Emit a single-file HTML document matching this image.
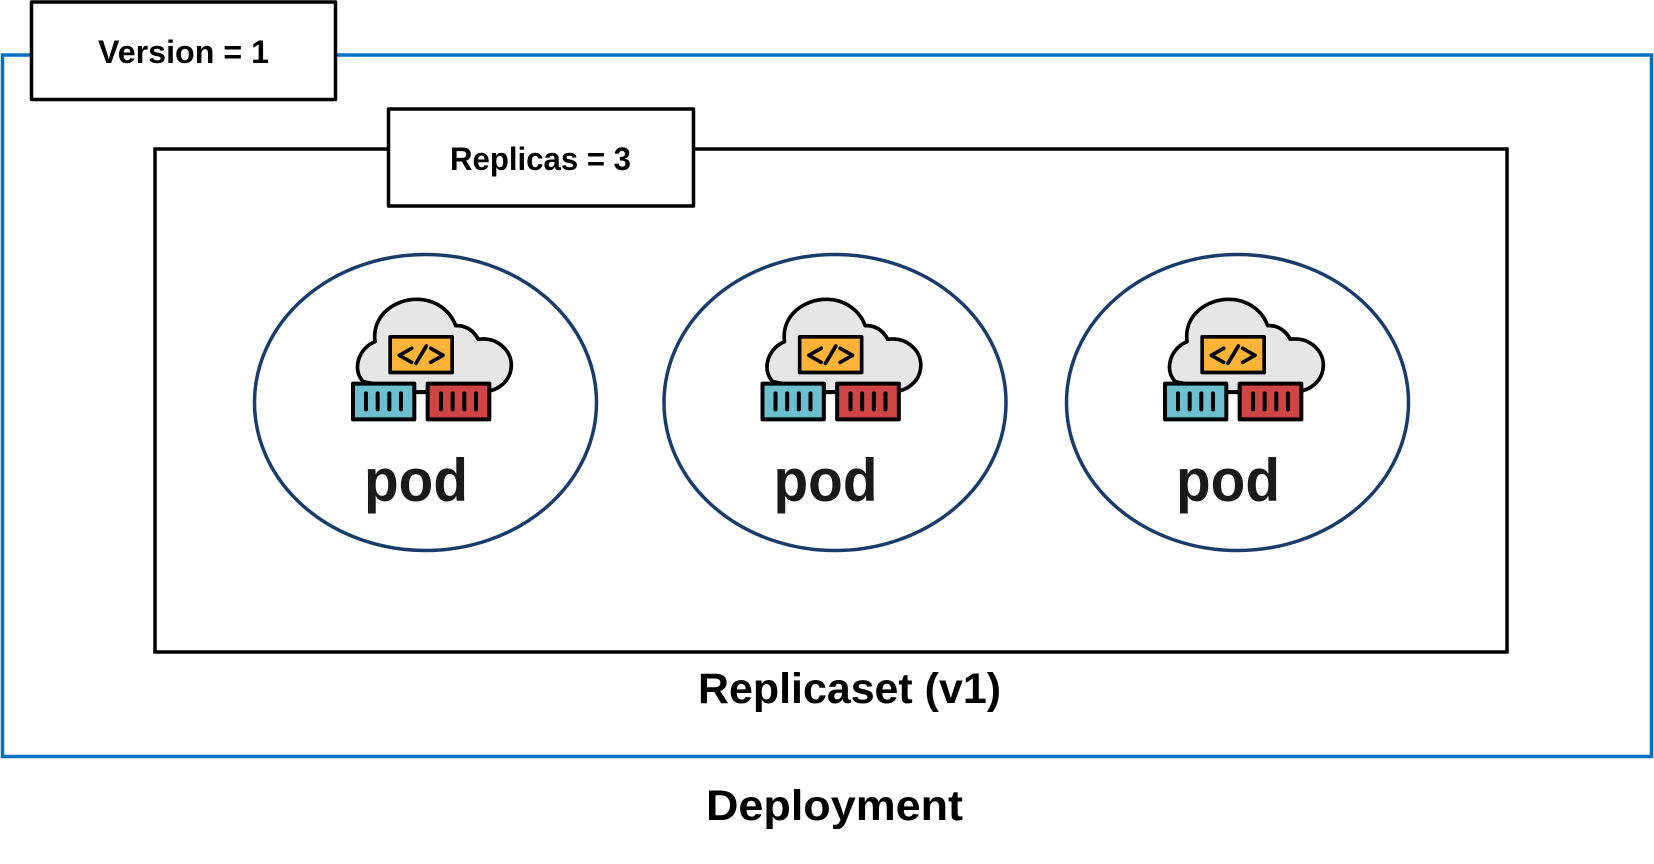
<!DOCTYPE html>
<html>
<head>
<meta charset="utf-8">
<style>
html,body{margin:0;padding:0;background:#fff;width:1654px;height:864px;overflow:hidden}
svg{display:block}
text{font-family:"Liberation Sans",sans-serif;font-weight:bold;fill:#000}
.p{fill:#1a1a1a;font-size:60px}
</style>
</head>
<body>
<svg width="1654" height="864" viewBox="0 0 1654 864" xmlns="http://www.w3.org/2000/svg">
<defs>
<g id="ic">
  <path d="M70 305C35 270 55 205 105 185C95 105 165 58 230 58C285 58 330 90 347 137C375 135 400 150 415 178C470 170 514 210 514 255C514 295 487 322 450 333L225 336Z" fill="#e6e6e6" stroke="#000" stroke-width="11" stroke-linejoin="round"/>
  <path d="M225 337H260" stroke="#000" stroke-width="11" fill="none"/>
  <rect x="150.500" y="170.500" width="186" height="107" fill="#fdb338" stroke="#000" stroke-width="11" stroke-linejoin="round"/>
  <path d="M215 205L178 226L215 247M272 205L309 226L272 247M259 198L228 250" fill="none" stroke="#000" stroke-width="11" stroke-linecap="round" stroke-linejoin="round"/>
  <rect x="39" y="311" width="184" height="107" fill="#6cbfcf" stroke="#000" stroke-width="12" stroke-linejoin="round"/>
  <rect x="263" y="311" width="185" height="107" fill="#cf4545" stroke="#000" stroke-width="12" stroke-linejoin="round"/>
  <path d="M78 340V388M113 340V388M148 340V388M183 340V388M303 340V388M338 340V388M373 340V388M408 340V388" fill="none" stroke="#000" stroke-width="12" stroke-linecap="round"/>
</g>
</defs>

<rect x="2.500" y="55" width="1649" height="701.500" fill="#fff" stroke="#0070c0" stroke-width="3.500"/>
<rect x="31.500" y="2" width="304" height="97.500" fill="#fff" stroke="#000" stroke-width="3.500" stroke-linejoin="round"/>
<text x="98" y="63" font-size="32" textLength="171" lengthAdjust="spacingAndGlyphs">Version = 1</text>

<rect x="155" y="149" width="1352" height="503" fill="#fff" stroke="#000" stroke-width="3.500"/>
<rect x="388.500" y="109" width="305" height="97" fill="#fff" stroke="#000" stroke-width="3.500" stroke-linejoin="round"/>
<text x="450" y="170" font-size="32" textLength="181" lengthAdjust="spacingAndGlyphs">Replicas = 3</text>

<ellipse cx="425.500" cy="402.500" rx="171" ry="148" fill="#fff" stroke="#1a3c6a" stroke-width="3.500"/>
<ellipse cx="835" cy="402.500" rx="171" ry="148" fill="#fff" stroke="#1a3c6a" stroke-width="3.500"/>
<ellipse cx="1237.500" cy="402.500" rx="171" ry="148" fill="#fff" stroke="#1a3c6a" stroke-width="3.500"/>

<use href="#ic" transform="translate(340 280) scale(.33333)"/>
<use href="#ic" transform="translate(749.500 280) scale(.33333)"/>
<use href="#ic" transform="translate(1152 280) scale(.33333)"/>

<text class="p" x="364" y="501" textLength="104" lengthAdjust="spacingAndGlyphs">pod</text>
<text class="p" x="773.500" y="501" textLength="104" lengthAdjust="spacingAndGlyphs">pod</text>
<text class="p" x="1176" y="501" textLength="104" lengthAdjust="spacingAndGlyphs">pod</text>

<text x="698" y="703" font-size="43" textLength="303" lengthAdjust="spacingAndGlyphs">Replicaset (v1)</text>
<text x="706" y="820" font-size="43" textLength="257" lengthAdjust="spacingAndGlyphs">Deployment</text>
</svg>
</body>
</html>
